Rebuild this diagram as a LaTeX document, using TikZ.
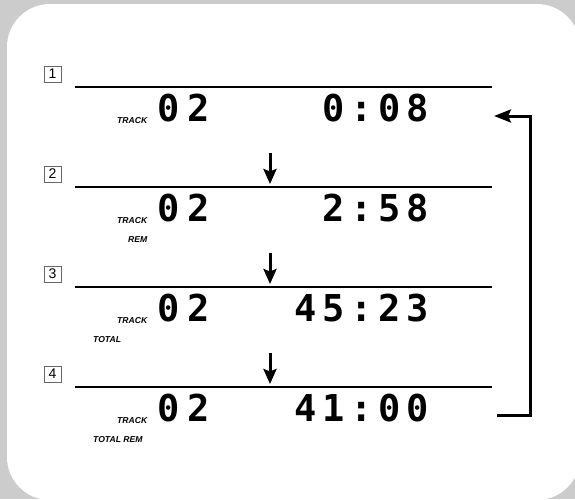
\documentclass[tikz,border=0pt]{standalone}
\usepackage{fontspec}
\usetikzlibrary{arrows.meta}
\newfontfamily\lcdfont{DejaVu Sans Mono}
\newfontfamily\labfont{Liberation Sans}
\definecolor{bggray}{RGB}{204,204,204}
\makeatletter
\def\lcdloop#1{\ifx#1\relax\else\makebox[\lcdpitch][c]{#1}\expandafter\lcdloop\fi}
\newcommand\lcdstr[2]{\def\lcdpitch{#1}\lcdloop#2\relax}
\makeatother
\tikzset{
  rule/.style={line width=2.6pt},
  downarrow/.style={line width=3pt,-{Stealth[length=15pt,width=13pt,inset=2.5pt]}},
  looparrow/.style={line width=3pt,-{Stealth[length=17pt,width=13pt,inset=3pt]}},
  numbox/.style={draw=black!60,line width=0.6pt,minimum width=17pt,minimum height=16pt,inner sep=0pt,font=\labfont\fontsize{14}{14}\selectfont},
  digits/.style={inner sep=0pt,anchor=base west,font=\lcdfont\bfseries\fontsize{37}{37}\selectfont},
  timedig/.style={inner sep=0pt,anchor=base east,font=\lcdfont\bfseries\fontsize{37}{37}\selectfont},
  smalllab/.style={inner sep=0pt,anchor=base west,font=\labfont\bfseries\itshape\fontsize{8.6}{9}\selectfont}
}
\begin{document}
\begin{tikzpicture}[x=1pt,y=-1pt]
\useasboundingbox (0,0) rectangle (575,499);
\fill[bggray] (0,0) rectangle (575,499);
\begin{scope}
\clip (0,0) rectangle (575,499);
\fill[white,rounded corners=43pt] (7,4) rectangle (580,500);
\end{scope}
% rows
\foreach \k/\n in {0/1,1/2,2/3,3/4}{
  \node[numbox] (b\n) at (52.5,{74+100*\k}) {\n};
  \coordinate (ls\n) at (75,{87+100*\k});
  \coordinate (le\n) at (492,{87+100*\k});
  \draw[rule] (ls\n) -- (le\n);
  \node[smalllab] (track\n) at (117,{123+100*\k}) {TRACK};
  \node[digits] (trk\n) at (153.5,{121.5+100*\k}) {\lcdstr{30pt}{02}};
}
\node[timedig] (t1) at (431.5,121.5) {\lcdstr{28pt}{0:08}};
\node[timedig] (t2) at (431.5,221.5) {\lcdstr{28pt}{2:58}};
\node[timedig] (t3) at (431.5,321.5) {\lcdstr{28pt}{45:23}};
\node[timedig] (t4) at (431.5,421.5) {\lcdstr{28pt}{41:00}};
\node[smalllab] (rem2) at (128,242) {REM};
\node[smalllab] (tot3) at (93,342) {TOTAL};
\node[smalllab] (totrem4) at (93,442) {TOTAL REM};
% down arrows
\foreach \k/\n in {1/2,2/3,3/4}{
  \coordinate (as\n) at (270,{153+100*(\k-1)});
  \coordinate (ae\n) at (270,{184+100*(\k-1)});
  \draw[downarrow] (as\n) -- (ae\n);
}
% loop back
\coordinate (lb) at (497,415);
\coordinate (lc) at (530,415);
\coordinate (ld) at (530,116);
\coordinate (lt) at (494,116);
\draw[looparrow] (lb) -- (lc) -- (ld) -- (lt);
\end{tikzpicture}
\end{document}
